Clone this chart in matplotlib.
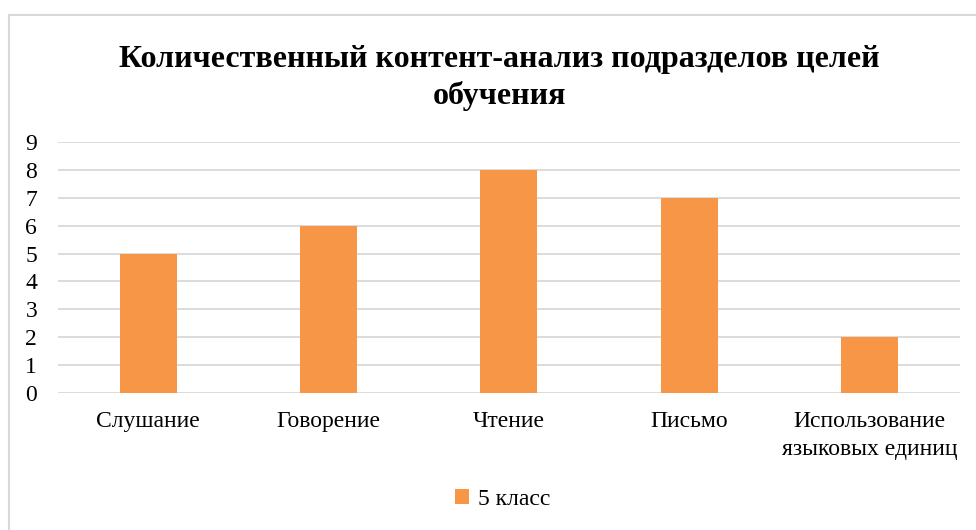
import matplotlib.pyplot as plt
from matplotlib.patches import Rectangle

categories = ["Слушание", "Говорение", "Чтение", "Письмо",
              "Использование\nязыковых единиц"]
values = [5, 6, 8, 7, 2]
series_name = "5 класс"
title = "Количественный контент-анализ подразделов целей\nобучения"

plt.rcParams['font.family'] = ['Liberation Serif', 'DejaVu Serif']

fig = plt.figure(figsize=(9.76, 5.30), dpi=100)
ax = fig.add_axes([0.0594, 0.2585, 0.9242, 0.4735])

x = range(len(categories))
ax.bar(x, values, width=0.316, color="#F79646", label=series_name, zorder=3)

ax.set_xlim(-0.5, len(categories) - 0.5)
ax.set_ylim(0, 9)
ax.set_yticks(range(10))
ax.set_xticks(list(x))
ax.set_xticklabels(categories, fontsize=17, linespacing=1.45)
ax.tick_params(axis='y', labelsize=17, length=0, pad=15)
ax.tick_params(axis='x', length=0, pad=13)
ax.grid(axis='y', color="#D9D9D9", linewidth=1.3, zorder=0)
for s in ax.spines.values():
    s.set_visible(False)

fig.text(0.512, 0.852, title, ha='center', va='center', fontsize=23,
         fontweight='bold', linespacing=1.3)

fig.legend(loc='center', bbox_to_anchor=(0.515, 0.058), frameon=False,
           fontsize=17, handlelength=0.6, handleheight=0.6, handletextpad=0.4)

fig.patches.append(Rectangle((8.5 / 976, -0.1), 2.0, 1.1 - 15.5 / 530,
                             transform=fig.transFigure, fill=False,
                             edgecolor="#D9D9D9", linewidth=1.5))

fig.savefig("out.png", dpi=100)
